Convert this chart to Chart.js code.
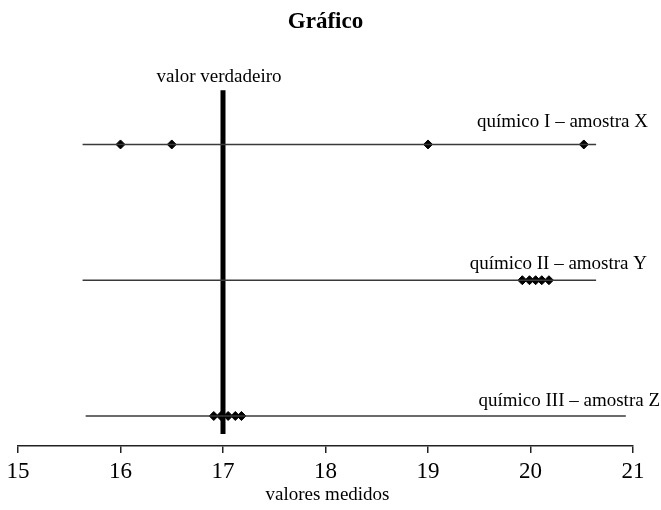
<!DOCTYPE html>
<html>
<head>
<meta charset="utf-8">
<script src="https://cdn.jsdelivr.net/npm/chart.js@4/dist/chart.umd.min.js"></script>
<style>
  html, body { margin: 0; padding: 0; background: #fff; }
  #wrap { width: 661px; height: 510px; position: relative; }
</style>
</head>
<body>
<div id="wrap"><canvas id="c" width="661" height="510"></canvas></div>
<script>
// ---- data ----
const rowNames = ["químico I – amostra X", "químico II – amostra Y", "químico III – amostra Z"];
const rowLevels = [3, 2, 1];
const sampleX = [16, 16.5, 19, 20.52];
const sampleY = [19.92, 19.99, 20.05, 20.11, 20.18];
const sampleZ = [16.91, 16.98, 17.05, 17.12, 17.18];
const rowLineStart = [15.63, 15.63, 15.66];
const rowLineEnd = [20.64, 20.64, 20.93];
const trueValue = 17;
const trueValueLabel = "valor verdadeiro";
const xTicks = [15, 16, 17, 18, 19, 20, 21];
const chartTitle = "Gráfico";
const xTitle = "valores medidos";

const serif = "'Liberation Serif', 'DejaVu Serif', serif";
const lineColor = '#3a3a3a';

const samples = [sampleX, sampleY, sampleZ];
const datasets = [];
rowLevels.forEach((lvl, i) => {
  datasets.push({
    type: 'line',
    data: [{x: rowLineStart[i], y: lvl}, {x: rowLineEnd[i], y: lvl}],
    borderColor: lineColor, borderWidth: 1.5, pointRadius: 0, fill: false
  });
});
datasets.push({
  type: 'line',
  data: [{x: trueValue, y: 3.4}, {x: trueValue, y: 0.867}],
  borderColor: '#000', borderWidth: 5, pointRadius: 0, fill: false, borderCapStyle: 'butt'
});
samples.forEach((arr, i) => {
  datasets.push({
    type: 'scatter',
    data: arr.map(v => ({x: v, y: rowLevels[i]})),
    pointStyle: 'rectRot', pointRadius: 4.5,
    backgroundColor: '#000', borderColor: '#000', borderWidth: 1
  });
});

const labelPlugin = {
  id: 'labels',
  afterDatasetsDraw(chart) {
    const ctx = chart.ctx;
    const xs = chart.scales.x, ys = chart.scales.y;
    ctx.save();
    ctx.fillStyle = '#000';
    ctx.font = "19px " + serif;
    ctx.textBaseline = 'alphabetic';
    const rightEnds = [648, 647, 660];
    const offsets = [17, 11, 10];
    rowNames.forEach((n, i) => {
      ctx.textAlign = 'right';
      ctx.fillText(n, rightEnds[i], ys.getPixelForValue(rowLevels[i]) - offsets[i]);
    });
    ctx.textAlign = 'center';
    ctx.fillText(trueValueLabel, xs.getPixelForValue(trueValue) - 4, 82);
    // x axis title
    ctx.textBaseline = 'middle';
    ctx.fillText(xTitle, (chart.chartArea.left + chart.chartArea.right) / 2 + 2, 495);
    ctx.restore();
  }
};

new Chart(document.getElementById('c'), {
  data: { datasets },
  options: {
    responsive: false,
    animation: false,
    layout: { padding: { left: 18, right: 28, top: 0, bottom: 19.4 } },
    plugins: {
      legend: { display: false },
      tooltip: { enabled: false },
      title: {
        display: true, text: chartTitle, color: '#000',
        font: { family: serif, size: 23, weight: 'bold' },
        padding: { top: 8, bottom: 17.6 }
      }
    },
    scales: {
      x: {
        type: 'linear', min: 15, max: 21,
        afterBuildTicks: (s) => { s.ticks = xTicks.map(v => ({value: v})); },
        grid: { drawOnChartArea: false, drawTicks: true, tickLength: 7, color: '#222', lineWidth: 1.5 },
        border: { display: true, color: '#222', width: 1.5 },
        ticks: { color: '#000', font: { family: serif, size: 23 }, padding: 5, maxRotation: 0 },
        title: { display: false }
      },
      y: {
        type: 'linear', min: 0.779, max: 3.672, display: false
      }
    }
  },
  plugins: [labelPlugin]
});
</script>
</body>
</html>
